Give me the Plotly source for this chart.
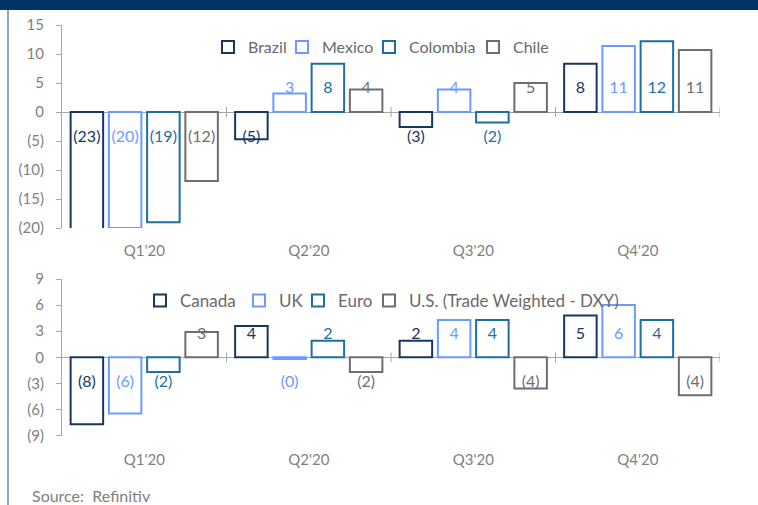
import plotly.graph_objects as go

# ---------------- data ----------------
quarters = ["Q1'20", "Q2'20", "Q3'20", "Q4'20"]

top_names = ["Brazil", "Mexico", "Colombia", "Chile"]
brazil = [-23, -4.7, -2.6, 8.3]
mexico = [-20, 3.2, 3.9, 11.4]
colombia = [-19, 8.3, -1.8, 12.2]
chile = [-11.9, 3.9, 5.0, 10.7]

bottom_names = ["Canada", "UK", "Euro", "U.S. (Trade Weighted - DXY)"]
canada = [-7.7, 3.6, 1.9, 4.8]
uk = [-6.45, -0.2, 4.3, 6.0]
euro = [-1.7, 1.9, 4.3, 4.3]
usd = [2.9, -1.7, -3.6, -4.35]

top_ticks = [-20, -15, -10, -5, 0, 5, 10, 15]
bottom_ticks = [-9, -6, -3, 0, 3, 6, 9]

# ---------------- style ----------------
colors = ["#17375E", "#6B9BFF", "#1F6E9E", "#6E6E6E"]
FONT = "Lato"
GRAY = "#A6A6A6"
TXT = "#7F7F7F"
W, H = 758, 505
ML, MR = 62, 38
PW = W - ML - MR
BARGAP = 0.07
GROUPGAP = 0.15


def fmt(v):
    r = round(v)
    return f"({abs(r)})" if v < 0 else str(r)


def px_x(p):
    return (p - ML) / PW


def px_y(p):
    return (H - p) / H


fig = go.Figure()
xs = list(range(len(quarters)))
slot = (1 - BARGAP) / 4


def add_panel(names, series, xa, ya, pos_lab, neg_lab, legend_ids):
    for k, (name, vals) in enumerate(zip(names, series)):
        fig.add_trace(go.Bar(
            x=xs, y=vals, name=name, xaxis=xa, yaxis=ya,
            marker=dict(color="white", line=dict(color=colors[k], width=2)),
            legend=legend_ids[k], showlegend=True,
        ))
        off = -(1 - BARGAP) / 2 + (k + 0.5) * slot
        fig.add_trace(go.Scatter(
            x=[x + off for x in xs],
            y=[pos_lab if v >= 0 else neg_lab for v in vals],
            text=[fmt(v) for v in vals],
            mode="text", textposition="middle center",
            textfont=dict(family=FONT, size=16, color=colors[k]),
            xaxis=xa, yaxis=ya, showlegend=False, cliponaxis=False,
            hoverinfo="skip",
        ))


top_leg = ["legend", "legend2", "legend3", "legend4"]
bot_leg = ["legend5", "legend6", "legend7", "legend8"]
add_panel(top_names, [brazil, mexico, colombia, chile], "x", "y", 3.95, -4.4, top_leg)
add_panel(bottom_names, [canada, uk, euro, usd], "x2", "y2", 2.55, -3.0, bot_leg)

yaxis_common = dict(
    showline=True, linecolor=GRAY, linewidth=1, ticks="outside", ticklen=5,
    tickcolor=GRAY, showgrid=False, zeroline=True, zerolinecolor=GRAY,
    zerolinewidth=1, tickfont=dict(family=FONT, size=15, color=TXT),
    ticklabelstandoff=9, fixedrange=True, automargin=False,
)
xaxis_common = dict(
    range=[-0.5, 3.5], tickvals=xs, ticktext=quarters, showline=False,
    showgrid=False, zeroline=False, ticks="", domain=[0, 1], automargin=False,
    tickfont=dict(family=FONT, size=15, color=TXT), fixedrange=True,
)

layout = dict(
    width=W, height=H, margin=dict(l=ML, r=MR, t=0, b=0, autoexpand=False),
    paper_bgcolor="white", plot_bgcolor="white",
    barmode="group", bargap=BARGAP, bargroupgap=GROUPGAP,
    font=dict(family=FONT, color=TXT),
    xaxis=dict(anchor="y", ticklabelstandoff=12, **xaxis_common),
    yaxis=dict(anchor="x", domain=[px_y(228), px_y(25)], range=[-20, 15],
               tickvals=top_ticks, ticktext=[fmt(v) for v in top_ticks], **yaxis_common),
    xaxis2=dict(anchor="y2", ticklabelstandoff=13, **xaxis_common),
    yaxis2=dict(anchor="x2", domain=[px_y(435.6), px_y(279)], range=[-9, 9],
                tickvals=bottom_ticks, ticktext=[fmt(v) for v in bottom_ticks], **yaxis_common),
)

# legends: one per item, placed like the reference
top_box = [227, 301, 388, 492]
bot_box = [159, 258, 317, 388]
for ids, boxes, yc, fs in [(top_leg, top_box, 47, 16), (bot_leg, bot_box, 301, 17)]:
    for lid, bx in zip(ids, boxes):
        layout[lid] = dict(
            x=px_x(bx - 19), xanchor="left", y=px_y(yc), yanchor="middle",
            orientation="h", bgcolor="rgba(0,0,0,0)", borderwidth=0,
            font=dict(family=FONT, size=fs, color="#6A6A6A"),
        )

fig.update_layout(**layout)

shapes = [
    # top title band
    dict(type="rect", xref="paper", yref="paper", x0=px_x(-5), x1=px_x(W + 5),
         y0=px_y(10), y1=px_y(-5), fillcolor="#003366", line=dict(width=0), layer="above"),
    # left frame line
    dict(type="line", xref="paper", yref="paper", x0=px_x(8), x1=px_x(8),
         y0=px_y(10), y1=px_y(H + 5), line=dict(color="#8FA8C6", width=2)),
]
for xa, ya in [("x", "y"), ("x2", "y2")]:
    for b in [0.5, 1.5, 2.5, 3.5]:
        shapes.append(dict(type="line", xref=xa, yref=ya, x0=b, x1=b,
                           ysizemode="pixel", yanchor=0, y0=-5, y1=5,
                           line=dict(color=GRAY, width=1)))
fig.update_layout(shapes=shapes)

fig.add_annotation(text="Source:\u00a0 Refinitiv", xref="paper", yref="paper",
                   x=px_x(30), y=px_y(495), xanchor="left", yanchor="middle",
                   showarrow=False, font=dict(family=FONT, size=16, color="#808080"))

fig.write_html("out.html")
